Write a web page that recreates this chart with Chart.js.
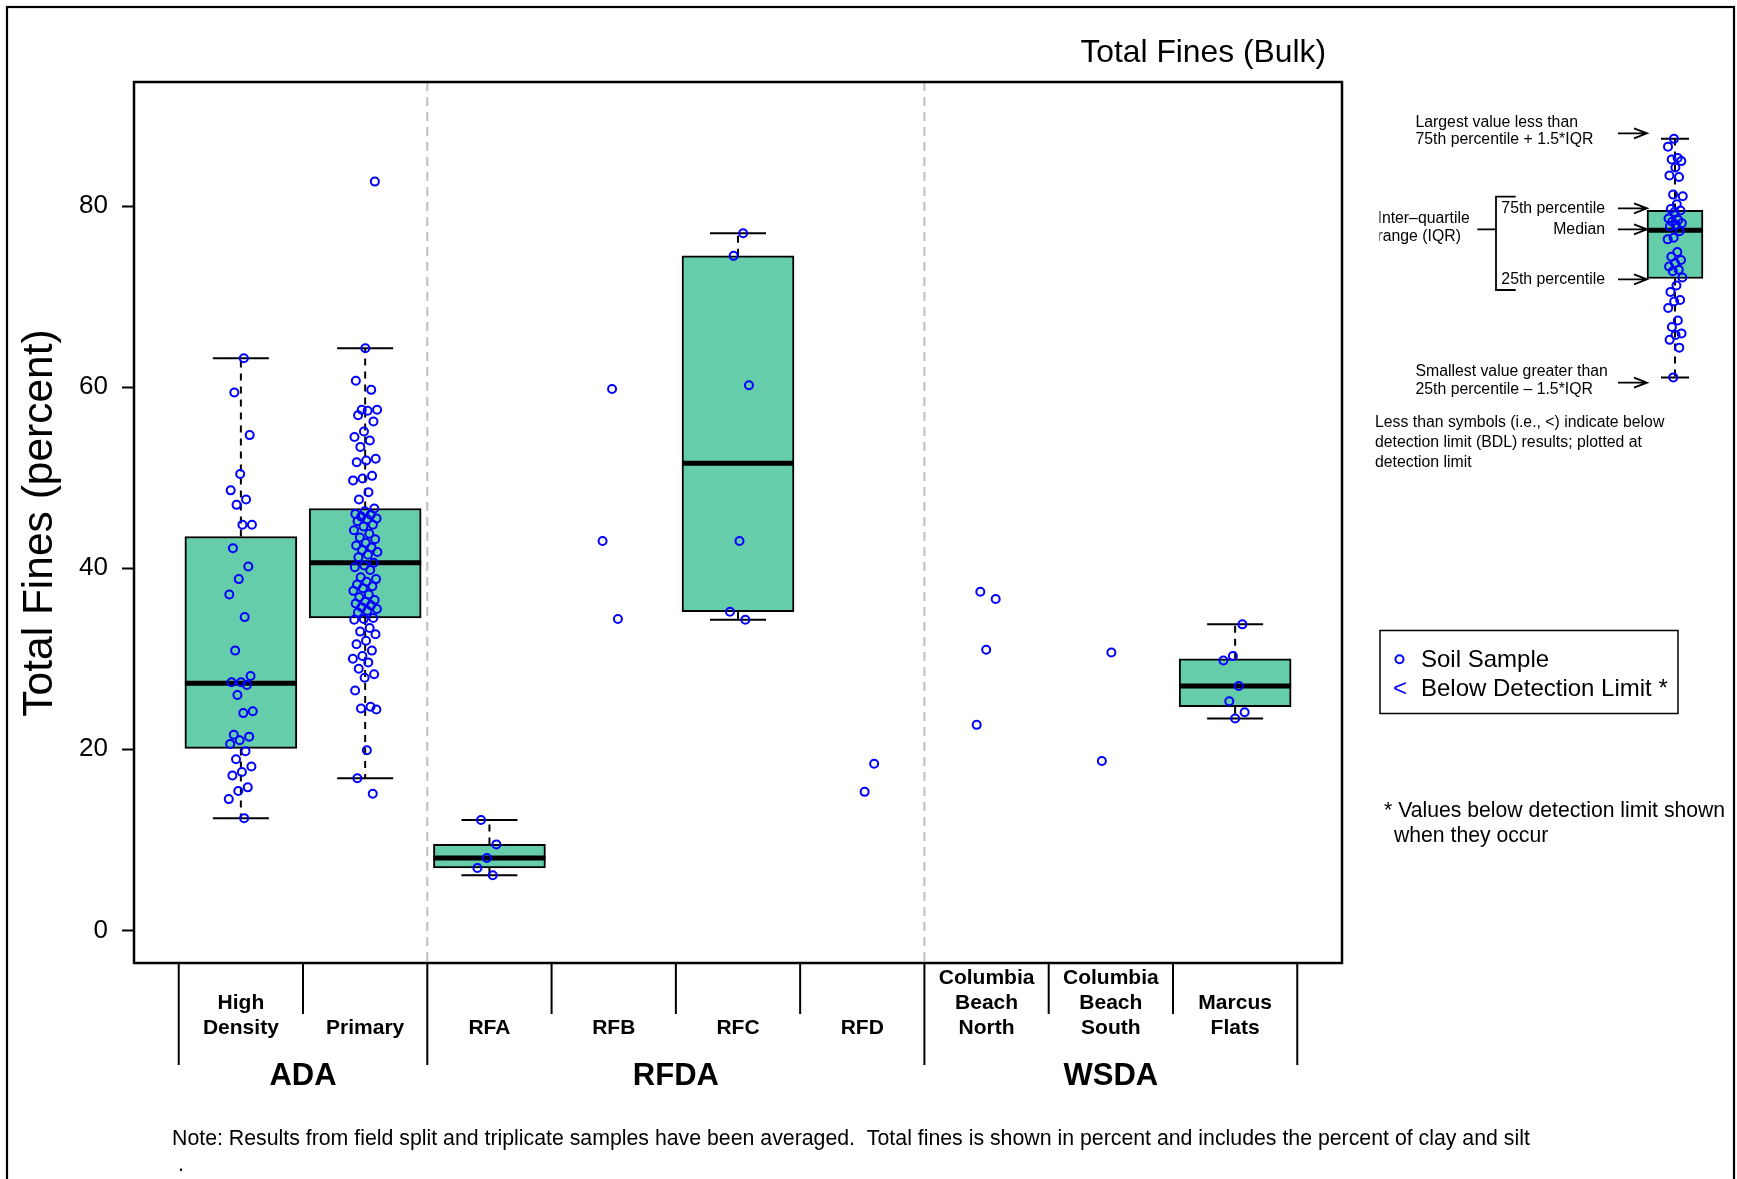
<!DOCTYPE html>
<html>
<head>
<meta charset="utf-8">
<script src="https://cdn.jsdelivr.net/npm/chart.js@4.4.1/dist/chart.umd.min.js"></script>
<style>
  html, body { margin: 0; padding: 0; background: #ffffff; }
  #wrap { position: relative; width: 1737px; height: 1179px; overflow: hidden; background: #ffffff; }
  #main { position: absolute; left: 0; top: 0; }
  #key { position: absolute; left: 1630px; top: 120px; }
</style>
</head>
<body>
<div id="wrap">
  <canvas id="main" width="1737" height="1179"></canvas>
  <canvas id="key" width="90" height="280"></canvas>
</div>
<script>
// ---- Sites along the x axis ----
const categories = [
  ['High', 'Density'], ['Primary'], ['RFA'], ['RFB'], ['RFC'], ['RFD'],
  ['Columbia', 'Beach', 'North'], ['Columbia', 'Beach', 'South'], ['Marcus', 'Flats']
];
const groupNames = ['ADA', 'RFDA', 'WSDA'];
const groupSizes = [2, 4, 3];
const yTicks = [0, 20, 40, 60, 80];

// ---- Total fines (%) per soil sample ----
const highDensity = [63.2, 59.4, 54.7, 50.4, 48.6, 47.6, 47.0, 44.8, 44.8, 42.2, 40.2, 38.8, 37.1, 34.6,
  30.9, 28.1, 27.4, 27.4, 27.1, 26.0, 24.2, 24.0, 21.6, 21.4, 21.0, 20.6, 19.8, 18.9, 18.1, 17.5, 17.1,
  15.8, 15.4, 14.5, 12.4];
const primary = [82.7, 64.3, 60.7, 59.7, 57.5, 57.5, 57.4, 56.9, 56.2, 55.1, 54.5, 54.1, 53.4, 52.1, 51.9,
  51.7, 50.2, 49.9, 49.7, 48.4, 47.6, 46.6, 46.3, 46.0, 45.9, 45.7, 45.5, 45.4, 45.2, 44.8, 44.6, 44.2,
  43.8, 43.4, 43.2, 42.8, 42.5, 42.3, 42.0, 41.8, 41.5, 41.2, 40.6, 40.3, 40.1, 39.8, 39.0, 38.8, 38.5,
  38.2, 38.0, 37.8, 37.5, 37.1, 36.8, 36.5, 36.3, 36.1, 35.9, 35.7, 35.5, 35.3, 35.1, 34.5, 34.4, 34.3,
  33.4, 33.0, 32.7, 32.0, 31.6, 30.9, 30.3, 30.0, 29.6, 28.9, 28.3, 27.9, 26.5, 24.7, 24.5, 24.4, 19.9,
  16.8, 15.1];
const rfa = [12.2, 9.5, 8.0, 6.9, 6.1];
const rfb = [59.8, 43.0, 34.4];
const rfc = [77.0, 74.5, 60.2, 43.0, 35.2, 34.3];
const rfd = [18.4, 15.3];
const cbNorth = [37.4, 36.6, 31.0, 22.7];
const cbSouth = [30.7, 18.7];
const marcusFlats = [33.8, 30.3, 29.8, 27.0, 25.3, 24.1, 23.4];
const samples = [highDensity, primary, rfa, rfb, rfc, rfd, cbNorth, cbSouth, marcusFlats];

// ---- Box-plot statistics (null = no box drawn) ----
const whiskerHigh = [63.2, 64.3, 12.2, null, 77.0, null, null, null, 33.8];
const q3          = [43.5, 46.6,  9.5, null, 74.5, null, null, null, 30.0];
const median      = [27.3, 40.6,  8.0, null, 51.6, null, null, null, 27.0];
const q1          = [20.1, 34.5,  6.9, null, 35.2, null, null, null, 24.7];
const whiskerLow  = [12.4, 16.8,  6.1, null, 34.3, null, null, null, 23.4];

// ---- Explanatory key: an example sample set and its box ----
const keySample = [95.2, 92.3, 88.1, 87.5, 86.9, 84.5, 81.5, 81.0, 74.4, 73.8, 70.8, 69.0, 68.5, 67.9,
  65.5, 64.9, 64.3, 63.7, 63.1, 62.5, 60.7, 58.3, 57.7, 53.0, 51.2, 50.0, 48.8, 47.6, 46.4, 45.8, 43.5,
  40.5, 38.1, 35.1, 34.5, 32.1, 27.4, 25.0, 22.6, 22.0, 20.2, 17.3, 6.2];
const keyStats = { low: 6.2, q1: 43.1, median: 61.1, q3: 68.5, high: 95.2 };

const FONT = '"Liberation Sans", Arial, Helvetica, sans-serif';
Chart.defaults.font.family = FONT;
Chart.defaults.color = '#000000';

// Horizontal spread for overlapping samples (stripchart style)
function spread(group, k) {
  const f = ((k + 1) * 0.6180339887 + group * 0.2718281828) % 1;
  return (f * 2 - 1) * 0.1;
}

const pointData = [];
samples.forEach((vals, c) => vals.forEach((v, k) => pointData.push({ x: c + 1 + spread(c, k), y: v })));

const boxData = [];
const boxStats = [];
categories.forEach((_, c) => {
  if (q1[c] === null) return;
  boxData.push({ x: c + 1, y: [q1[c], q3[c]] });
  boxStats.push({ low: whiskerLow[c], median: median[c], high: whiskerHigh[c], q1: q1[c], q3: q3[c] });
});

// Whiskers, staples and median bars drawn right after the boxes
function boxDecor(stats, medianWidth) {
  return {
    id: 'boxDecor',
    afterDatasetDraw(chart, args) {
      if (args.meta.type !== 'bar') return;
      const ctx = chart.ctx;
      const y = chart.scales.y;
      ctx.save();
      args.meta.data.forEach((bar, j) => {
        const s = stats[j];
        const cx = bar.x, hw = bar.width / 2;
        ctx.strokeStyle = '#000';
        ctx.lineWidth = 2;
        ctx.setLineDash([7, 6]);
        ctx.beginPath();
        ctx.moveTo(cx, y.getPixelForValue(s.q3));
        ctx.lineTo(cx, y.getPixelForValue(s.high));
        ctx.moveTo(cx, y.getPixelForValue(s.q1));
        ctx.lineTo(cx, y.getPixelForValue(s.low));
        ctx.stroke();
        ctx.setLineDash([]);
        ctx.beginPath();
        ctx.moveTo(cx - hw / 2, y.getPixelForValue(s.high));
        ctx.lineTo(cx + hw / 2, y.getPixelForValue(s.high));
        ctx.moveTo(cx - hw / 2, y.getPixelForValue(s.low));
        ctx.lineTo(cx + hw / 2, y.getPixelForValue(s.low));
        ctx.stroke();
        ctx.lineWidth = medianWidth;
        ctx.lineCap = 'butt';
        ctx.beginPath();
        ctx.moveTo(cx - hw, y.getPixelForValue(s.median));
        ctx.lineTo(cx + hw, y.getPixelForValue(s.median));
        ctx.stroke();
      });
      ctx.restore();
    }
  };
}

function arrow(ctx, x0, x1, y) {
  ctx.beginPath();
  ctx.moveTo(x0, y); ctx.lineTo(x1, y);
  ctx.moveTo(x1 - 13, y - 5); ctx.lineTo(x1, y); ctx.lineTo(x1 - 13, y + 5);
  ctx.stroke();
}

function text(ctx, str, x, y, font, align) {
  ctx.font = font;
  ctx.textAlign = align || 'left';
  ctx.textBaseline = 'middle';
  ctx.fillText(str, x, y);
}

const frame = {
  id: 'frame',
  beforeDatasetsDraw(chart) {
    const { ctx, chartArea: a, scales: { x } } = chart;
    // dashed separators between site groups
    ctx.save();
    ctx.strokeStyle = '#BEBEBE';
    ctx.lineWidth = 2;
    ctx.setLineDash([9, 6]);
    let pos = 0.5;
    groupSizes.slice(0, -1).forEach(n => {
      pos += n;
      const px = x.getPixelForValue(pos);
      ctx.beginPath(); ctx.moveTo(px, a.top); ctx.lineTo(px, a.bottom); ctx.stroke();
    });
    ctx.restore();
  },
  afterDraw(chart) {
    const { ctx, chartArea: a, scales: { x } } = chart;
    ctx.save();
    ctx.fillStyle = '#000';
    ctx.strokeStyle = '#000';

    // plot box and outer figure border
    ctx.lineWidth = 2.5;
    ctx.strokeRect(a.left, a.top, a.right - a.left, a.bottom - a.top);
    ctx.lineWidth = 2.2;
    ctx.strokeRect(7, 7, 1727, 1200);

    // site dividers under the plot
    ctx.lineWidth = 2;
    const groupEdges = [0.5];
    groupSizes.forEach(n => groupEdges.push(groupEdges[groupEdges.length - 1] + n));
    for (let b = 0.5; b <= categories.length + 0.5; b += 1) {
      const px = x.getPixelForValue(b);
      const long = groupEdges.includes(b);
      ctx.beginPath(); ctx.moveTo(px, a.bottom); ctx.lineTo(px, long ? 1065 : 1014); ctx.stroke();
    }

    // site names
    categories.forEach((lines, c) => {
      const px = x.getPixelForValue(c + 1);
      lines.forEach((ln, k) => {
        text(ctx, ln, px, 1028 - (lines.length - 1 - k) * 24.8, 'bold 21px ' + FONT, 'center');
      });
    });
    // group names
    let start = 0.5;
    groupNames.forEach((g, i) => {
      const mid = start + groupSizes[i] / 2;
      start += groupSizes[i];
      text(ctx, g, x.getPixelForValue(mid), 1076, 'bold 31px ' + FONT, 'center');
    });

    // title, axis title, note
    text(ctx, 'Total Fines (Bulk)', 1326, 53, '31.8px ' + FONT, 'right');
    ctx.save();
    ctx.translate(40, 523);
    ctx.rotate(-Math.PI / 2);
    text(ctx, 'Total Fines (percent)', 0, 0, '42.5px ' + FONT, 'center');
    ctx.restore();
    text(ctx, 'Note: Results from field split and triplicate samples have been averaged.  Total fines is shown in percent and includes the percent of clay and silt',
      172, 1139, '21.3px ' + FONT, 'left');
    text(ctx, '.', 178, 1165, '21.3px ' + FONT, 'left');

    // explanatory key
    const kf = '15.8px ' + FONT;
    text(ctx, 'Largest value less than', 1415.5, 122.5, kf);
    text(ctx, '75th percentile + 1.5*IQR', 1415.5, 139.2, kf);
    text(ctx, '75th percentile', 1605, 208.8, kf, 'right');
    text(ctx, 'Median', 1605, 229.8, kf, 'right');
    text(ctx, '25th percentile', 1605, 279.2, kf, 'right');
    ctx.save();
    ctx.beginPath(); ctx.rect(1379.5, 190, 120, 60); ctx.clip();
    text(ctx, 'Inter–quartile', 1377.5, 218.2, kf);
    text(ctx, 'range (IQR)', 1377.5, 236.5, kf);
    ctx.restore();
    text(ctx, 'Smallest value greater than', 1415.5, 371.5, kf);
    text(ctx, '25th percentile – 1.5*IQR', 1415.5, 389.2, kf);
    text(ctx, 'Less than symbols (i.e., <) indicate below', 1375, 422.5, kf);
    text(ctx, 'detection limit (BDL) results; plotted at', 1375, 442.5, kf);
    text(ctx, 'detection limit', 1375, 462.2, kf);

    ctx.lineWidth = 1.8;
    ctx.beginPath();
    ctx.moveTo(1515.7, 196.7); ctx.lineTo(1496, 196.7); ctx.lineTo(1496, 290); ctx.lineTo(1515.7, 290);
    ctx.moveTo(1477.3, 229.3); ctx.lineTo(1496, 229.3);
    ctx.stroke();
    [133.3, 208.3, 229.3, 279.3, 382.7].forEach(yy => arrow(ctx, 1618, 1647, yy));

    // legend
    ctx.lineWidth = 1.5;
    ctx.strokeRect(1380, 630.5, 298, 83);
    ctx.strokeStyle = '#0000FF';
    ctx.lineWidth = 2;
    ctx.beginPath(); ctx.arc(1399.5, 659.3, 4, 0, Math.PI * 2); ctx.stroke();
    ctx.fillStyle = '#0000FF';
    text(ctx, '<', 1400, 689, '24px ' + FONT, 'center');
    ctx.fillStyle = '#000';
    text(ctx, 'Soil Sample', 1421, 660.3, '24px ' + FONT);
    text(ctx, 'Below Detection Limit *', 1421, 689, '24px ' + FONT);

    text(ctx, '* Values below detection limit shown', 1384, 811, '21.2px ' + FONT);
    text(ctx, 'when they occur', 1394, 836, '21.2px ' + FONT);
    ctx.restore();
  }
};

new Chart(document.getElementById('main'), {
  type: 'bar',
  data: {
    datasets: [
      {
        type: 'scatter', label: 'Soil Sample', data: pointData, order: 0,
        pointStyle: 'circle', pointRadius: 4, pointBorderWidth: 2,
        borderColor: '#0000FF', pointBorderColor: '#0000FF',
        backgroundColor: 'rgba(0,0,0,0)', pointBackgroundColor: 'rgba(0,0,0,0)', showLine: false
      },
      {
        type: 'bar', label: 'IQR', data: boxData, order: 1,
        backgroundColor: '#66CDAA', borderColor: '#000000', borderWidth: 2,
        borderSkipped: false, barThickness: 112
      }
    ]
  },
  options: {
    responsive: false, animation: false, devicePixelRatio: 1,
    layout: { padding: { top: 82, right: 395, bottom: 216, left: 0 } },
    plugins: { legend: { display: false }, tooltip: { enabled: false } },
    scales: {
      x: { type: 'linear', min: 0.14, max: 9.86, offset: false, display: false },
      y: {
        type: 'linear', min: -3.6, max: 93.7,
        afterFit(s) { s.width = 134; },
        afterBuildTicks(s) { s.ticks = yTicks.map(v => ({ value: v })); },
        ticks: { font: { size: 26, family: FONT }, color: '#000', padding: 14 },
        grid: { drawOnChartArea: false, drawTicks: true, tickLength: 12, tickWidth: 2, tickColor: '#000' },
        border: { display: false }
      }
    }
  },
  plugins: [boxDecor(boxStats, 5), frame]
});

// Key box plot
const keyPoints = keySample.map((v, k) => ({ x: 0.5 + spread(3, k), y: v }));
new Chart(document.getElementById('key'), {
  type: 'bar',
  data: {
    datasets: [
      {
        type: 'scatter', data: keyPoints, order: 0,
        pointStyle: 'circle', pointRadius: 4, pointBorderWidth: 2,
        borderColor: '#0000FF', pointBorderColor: '#0000FF',
        backgroundColor: 'rgba(0,0,0,0)', pointBackgroundColor: 'rgba(0,0,0,0)', showLine: false
      },
      {
        type: 'bar', data: [{ x: 0.5, y: [keyStats.q1, keyStats.q3] }], order: 1,
        backgroundColor: '#66CDAA', borderColor: '#000000', borderWidth: 2,
        borderSkipped: false, barThickness: 56
      }
    ]
  },
  options: {
    responsive: false, animation: false, devicePixelRatio: 1,
    layout: { padding: 0 },
    plugins: { legend: { display: false }, tooltip: { enabled: false } },
    scales: {
      x: { type: 'linear', min: 0, max: 1, offset: false, display: false },
      y: { type: 'linear', min: 0, max: 100, display: false }
    }
  },
  plugins: [boxDecor([keyStats], 5)]
});
</script>
</body>
</html>
